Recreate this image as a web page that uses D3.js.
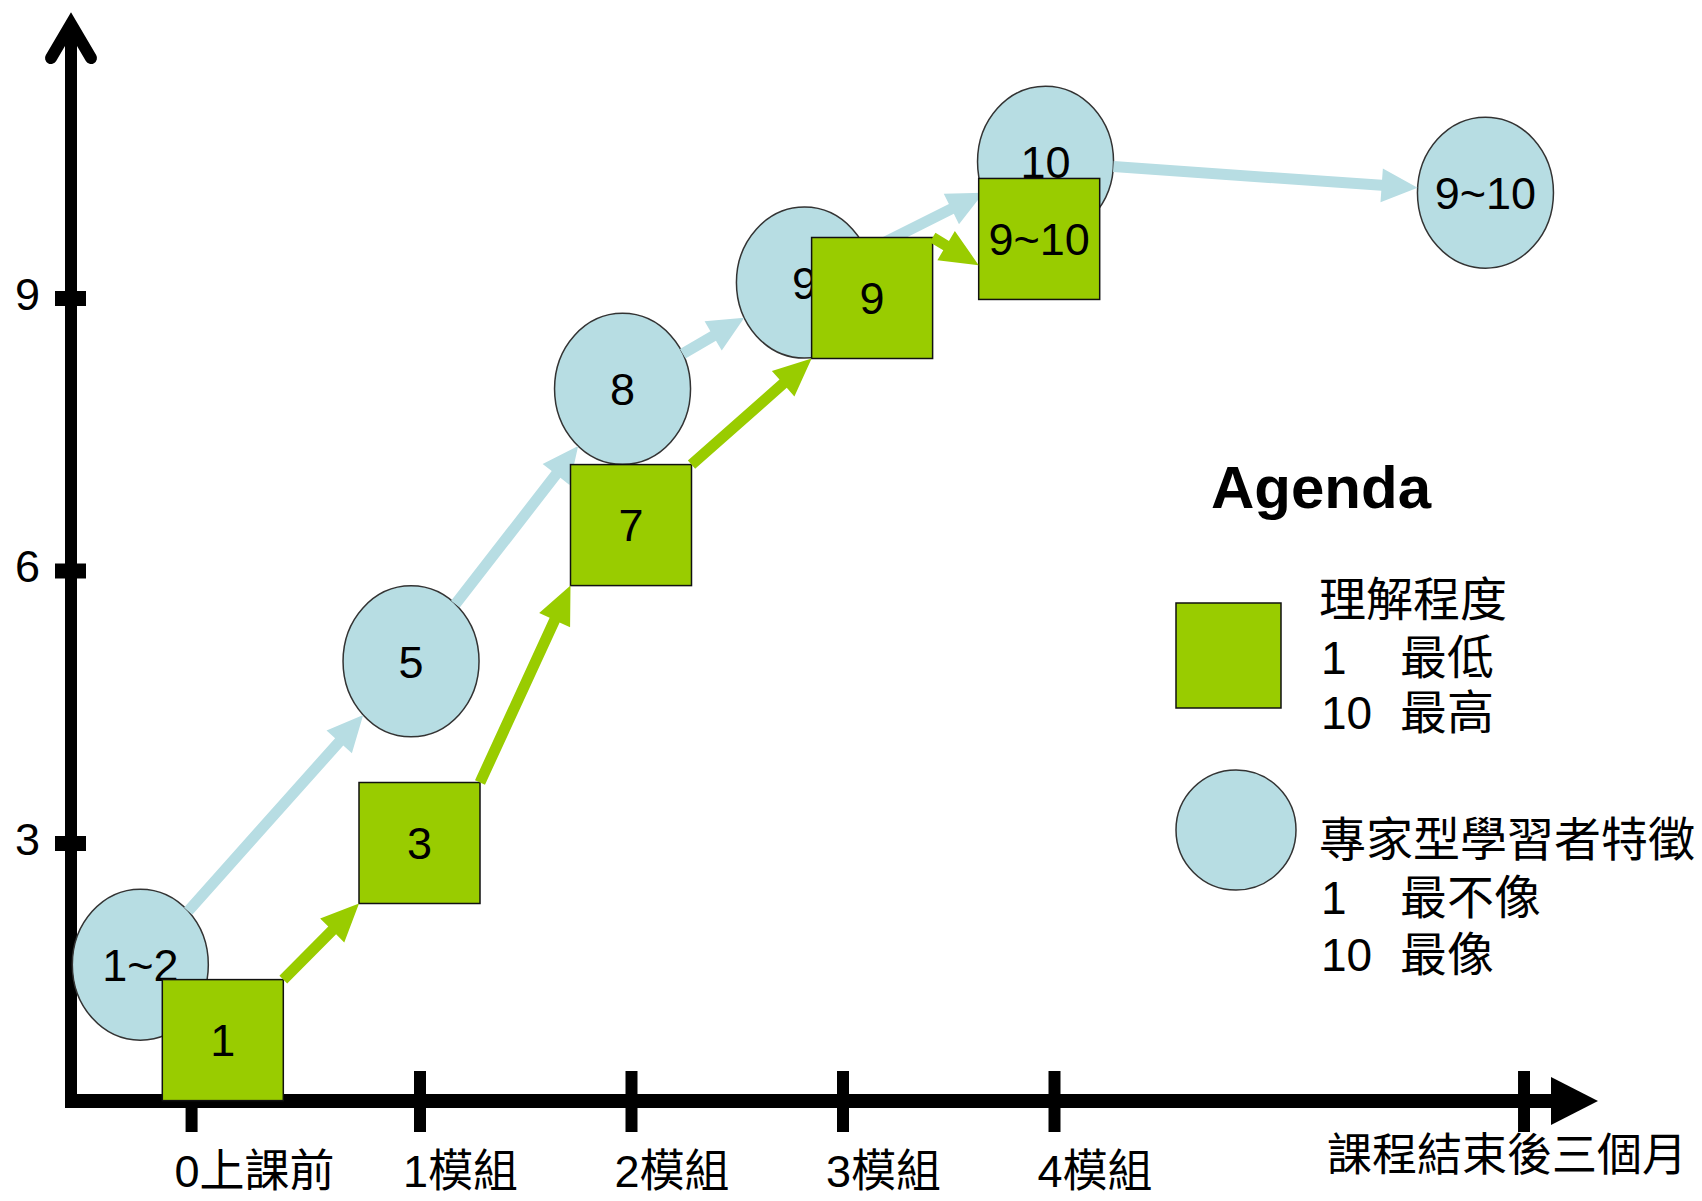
<!DOCTYPE html>
<html><head><meta charset="utf-8">
<script src="https://cdn.jsdelivr.net/npm/d3@7"></script>
<style>html,body{margin:0;padding:0;background:#fff;} svg{display:block;}</style>
</head><body>
<svg id="chart" width="1702" height="1201"></svg>
<script>
// ---------- data ----------
const stageLabels = ["0上課前", "1模組", "2模組", "3模組", "4模組", "課程結束後三個月"];
const stageTicks  = [-0.08, 1, 2, 3, 4, 6.22];
const yTickValues = [3, 6, 9];

const understandLabels = ["1", "3", "7", "9", "9~10"];
const understandStage  = [0.07, 1, 2, 3.14, 3.93];
const understandLevel  = [0.83, 3, 6.5, 9, 9.65];

const expertLabels = ["1~2", "5", "8", "9", "10", "9~10"];
const expertStage  = [-0.32, 0.96, 1.96, 2.82, 3.96, 6.04];
const expertLevel  = [1.66, 5, 8, 9.17, 10.5, 10.16];

const legendTitle = "Agenda";
const legendSquareHead = "理解程度";
const legendSquareNums = ["1", "10"];
const legendSquareWords = ["最低", "最高"];
const legendCircleHead = "專家型學習者特徵";
const legendCircleNums = ["1", "10"];
const legendCircleWords = ["最不像", "最像"];

// ---------- style ----------
const GREEN = "#99CC00", BLUE = "#B7DDE3";
const FONT = "'Liberation Sans', Arial, 'Noto Sans CJK TC', sans-serif";
const SQ = 121, RX = 68, RY = 75.5;

const svg = d3.select("#chart");
const x = d3.scaleLinear().domain([0, 4]).range([208, 1054]);
const y = d3.scaleLinear().domain([0, 12]).range([1115.5, 25.5]);

const axisX = 71, axisY = 1101;

// ---------- axes ----------
svg.append("line").attr("x1", axisX).attr("x2", axisX).attr("y1", axisY + 7).attr("y2", 26)
  .attr("stroke", "#000").attr("stroke-width", 12);
svg.append("path").attr("d", `M51,58 L${axisX},24 L91,58`)
  .attr("fill", "none").attr("stroke", "#000").attr("stroke-width", 12)
  .attr("stroke-linecap", "round").attr("stroke-linejoin", "miter");
svg.append("line").attr("x1", axisX - 6).attr("x2", 1556).attr("y1", axisY).attr("y2", axisY)
  .attr("stroke", "#000").attr("stroke-width", 14);
svg.append("path").attr("d", `M1551,1077 L1598,${axisY} L1551,1125 Z`).attr("fill", "#000");

const gy = svg.append("g").attr("transform", "translate(86,0)")
  .call(d3.axisLeft(y).tickValues(yTickValues).tickSize(31).tickPadding(15).tickFormat(d3.format("d")));
gy.select(".domain").remove();
gy.selectAll(".tick line").attr("stroke", "#000").attr("stroke-width", 15);
gy.selectAll(".tick text").attr("font-family", FONT).attr("font-size", 45).attr("fill", "#000").attr("dy", "0.25em");

const gx = svg.append("g").attr("transform", "translate(0,1071)")
  .call(d3.axisBottom(x).tickValues(stageTicks).tickSize(61).tickFormat((d, i) => stageLabels[i]));
gx.select(".domain").remove();
gx.selectAll(".tick line").attr("stroke", "#000").attr("stroke-width", 12);
gx.selectAll(".tick text")
  .attr("font-family", FONT).attr("font-size", 45).attr("fill", "#000")
  .attr("dy", null)
  .attr("text-anchor", (d, i) => i === stageLabels.length - 1 ? "middle" : "start")
  .attr("x", -17)
  .attr("y", (d, i) => i === stageLabels.length - 1 ? 100 : 116);

// ---------- helpers ----------
function arrowPath(x1, y1, x2, y2, w, hw, hl) {
  const dx = x2 - x1, dy = y2 - y1, L = Math.hypot(dx, dy);
  const ux = dx / L, uy = dy / L, px = -uy, py = ux;
  const bx = x2 - ux * hl, by = y2 - uy * hl;
  const p = d3.path();
  p.moveTo(x1 + px * w / 2, y1 + py * w / 2);
  p.lineTo(bx + px * w / 2, by + py * w / 2);
  p.lineTo(bx + px * hw / 2, by + py * hw / 2);
  p.lineTo(x2, y2);
  p.lineTo(bx - px * hw / 2, by - py * hw / 2);
  p.lineTo(bx - px * w / 2, by - py * w / 2);
  p.lineTo(x1 - px * w / 2, y1 - py * w / 2);
  p.closePath();
  return p.toString();
}
function ellipseT(ux, uy) { return 1 / Math.hypot(ux / RX, uy / RY); }

const expert = expertLabels.map((l, i) => ({ label: l, cx: x(expertStage[i]), cy: y(expertLevel[i]) }));
const underst = understandLabels.map((l, i) => ({ label: l, cx: x(understandStage[i]), cy: y(understandLevel[i]) }));

// ---------- circles ----------
const cg = svg.append("g");
cg.selectAll("ellipse").data(expert).join("ellipse")
  .attr("cx", d => d.cx).attr("cy", d => d.cy).attr("rx", RX).attr("ry", RY)
  .attr("fill", BLUE).attr("stroke", "#333").attr("stroke-width", 1.5);
cg.selectAll("text").data(expert).join("text")
  .attr("x", d => d.cx).attr("y", d => d.cy).attr("dy", "0.36em")
  .attr("text-anchor", "middle").attr("font-family", FONT).attr("font-size", 45).attr("fill", "#000")
  .text(d => d.label);

const blueArrows = d3.pairs(expert).map(([a, b]) => {
  const dx = b.cx - a.cx, dy = b.cy - a.cy, L = Math.hypot(dx, dy), ux = dx / L, uy = dy / L;
  const t = ellipseT(ux, uy);
  return { x1: a.cx + ux * t, y1: a.cy + uy * t, x2: b.cx - ux * t, y2: b.cy - uy * t };
});
svg.append("g").selectAll("path").data(blueArrows).join("path")
  .attr("d", d => arrowPath(d.x1, d.y1, d.x2, d.y2, 11, 34, 36))
  .attr("fill", BLUE);

// ---------- squares ----------
const sg = svg.append("g");
sg.selectAll("rect").data(underst).join("rect")
  .attr("x", d => d.cx - SQ / 2).attr("y", d => d.cy - SQ / 2).attr("width", SQ).attr("height", SQ)
  .attr("fill", GREEN).attr("stroke", "#111").attr("stroke-width", 1.5);
sg.selectAll("text").data(underst).join("text")
  .attr("x", d => d.cx).attr("y", d => d.cy).attr("dy", "0.36em")
  .attr("text-anchor", "middle").attr("font-family", FONT).attr("font-size", 45).attr("fill", "#000")
  .text(d => d.label);

const greenArrows = d3.pairs(underst).map(([a, b]) => {
  const x1 = a.cx + SQ / 2, y1 = a.cy - SQ / 2;
  const x2 = b.cx - SQ / 2;
  const y2 = Math.min(b.cy + SQ / 2, y1 + 0.6 * (x2 - x1));
  return { x1, y1, x2, y2 };
});
svg.append("g").selectAll("path").data(greenArrows).join("path")
  .attr("d", d => arrowPath(d.x1, d.y1, d.x2, d.y2, 11, 34, 38))
  .attr("fill", GREEN);

// ---------- legend ----------
const lg = svg.append("g").attr("font-family", FONT).attr("fill", "#000");
lg.append("text").attr("x", 1211).attr("y", 508).attr("font-size", 60).attr("font-weight", "bold").text(legendTitle);
lg.append("rect").attr("x", 1176).attr("y", 603).attr("width", 105).attr("height", 105)
  .attr("fill", GREEN).attr("stroke", "#111").attr("stroke-width", 1.5);
lg.append("text").attr("x", 1319).attr("y", 616).attr("font-size", 47).text(legendSquareHead);
legendSquareNums.forEach((n, i) => {
  lg.append("text").attr("x", 1321).attr("y", 674 + i * 55).attr("font-size", 46).text(n);
  lg.append("text").attr("x", 1400).attr("y", 674 + i * 55).attr("font-size", 47).text(legendSquareWords[i]);
});
lg.append("circle").attr("cx", 1236).attr("cy", 830).attr("r", 60)
  .attr("fill", BLUE).attr("stroke", "#333").attr("stroke-width", 1.5);
lg.append("text").attr("x", 1319).attr("y", 856).attr("font-size", 47).text(legendCircleHead);
legendCircleNums.forEach((n, i) => {
  lg.append("text").attr("x", 1321).attr("y", 914 + i * 57).attr("font-size", 46).text(n);
  lg.append("text").attr("x", 1400).attr("y", 914 + i * 57).attr("font-size", 47).text(legendCircleWords[i]);
});
</script>
</body></html>
